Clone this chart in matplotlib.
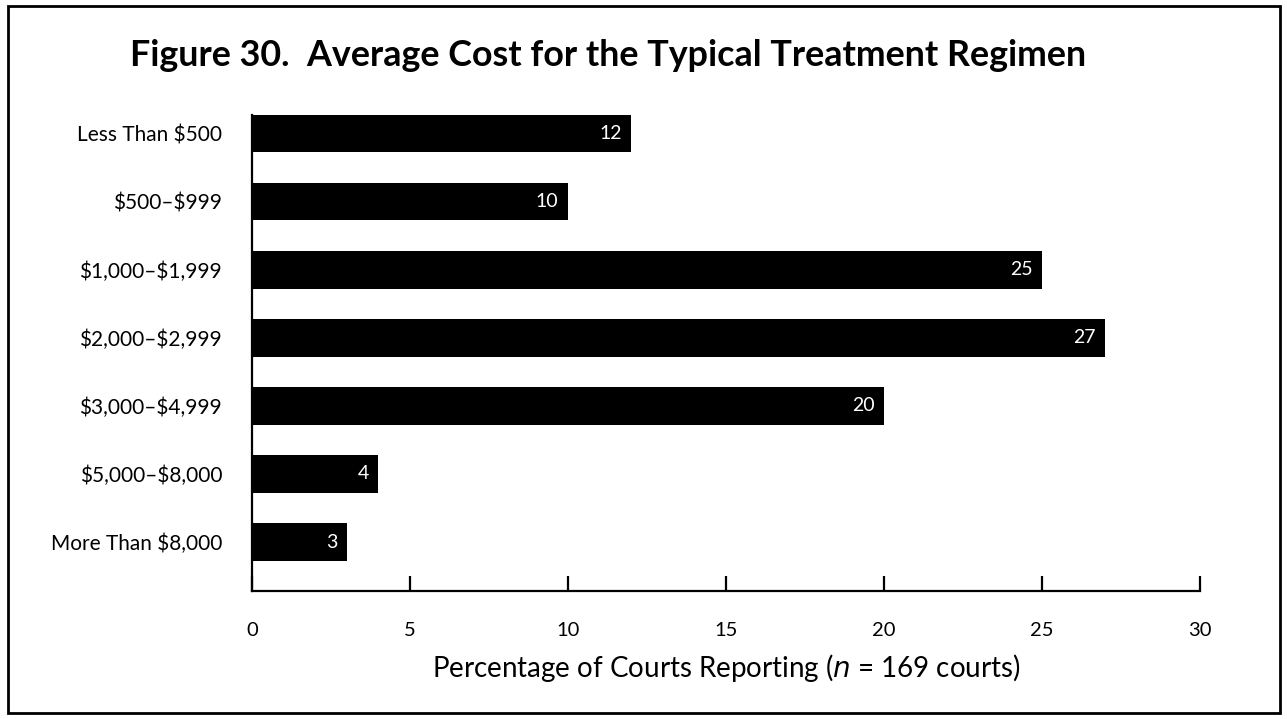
import matplotlib
matplotlib.use("Agg")
import matplotlib.pyplot as plt
from matplotlib.patches import Rectangle

categories = ["Less Than $500", "$500–$999", "$1,000–$1,999", "$2,000–$2,999",
              "$3,000–$4,999", "$5,000–$8,000", "More Than $8,000"]
percentages = [12, 10, 25, 27, 20, 4, 3]
xticks = [0, 5, 10, 15, 20, 25, 30]

plt.rcParams["font.family"] = ["Lato", "DejaVu Sans"]

fig = plt.figure(figsize=(12.87, 7.19), dpi=100)
fig.patches.append(Rectangle((0.0065, 0.008), 0.988, 0.984, transform=fig.transFigure,
                             fill=False, edgecolor="black", linewidth=2))

ax = fig.add_axes([252 / 1287, 1 - 591 / 719, (1200 - 252) / 1287, (591 - 115) / 719])
pos = list(range(len(categories)))
ax.barh(pos, percentages, height=0.55, color="black")
for y, v in zip(pos, percentages):
    ax.text(v - 0.3, y, str(v), color="white", ha="right", va="center", fontsize=14)

ax.set_ylim(6.72, -0.275)
ax.set_xlim(0, 30)
ax.set_xticks(xticks)
ax.set_xticklabels([str(t) for t in xticks])
ax.set_yticks(pos)
# escape dollar signs so they are not read as mathtext delimiters
ax.set_yticklabels([c.replace("$", r"\$") for c in categories], fontsize=15)
ax.tick_params(axis="y", length=0, pad=21.5)
ax.tick_params(axis="x", direction="in", length=11, width=1.6, pad=22, labelsize=14.5)
for s in ["top", "right"]:
    ax.spines[s].set_visible(False)
for s in ["left", "bottom"]:
    ax.spines[s].set_linewidth(1.6)

ax.set_xlabel("Percentage of Courts Reporting ($\\it{n}$ = 169 courts)", fontsize=20, labelpad=10)

fig.text(608 / 1287, 1 - 55 / 719, "Figure 30.  Average Cost for the Typical Treatment Regimen",
         ha="center", va="center", fontsize=25.8, fontweight="bold")

fig.savefig("out.png", dpi=100)
